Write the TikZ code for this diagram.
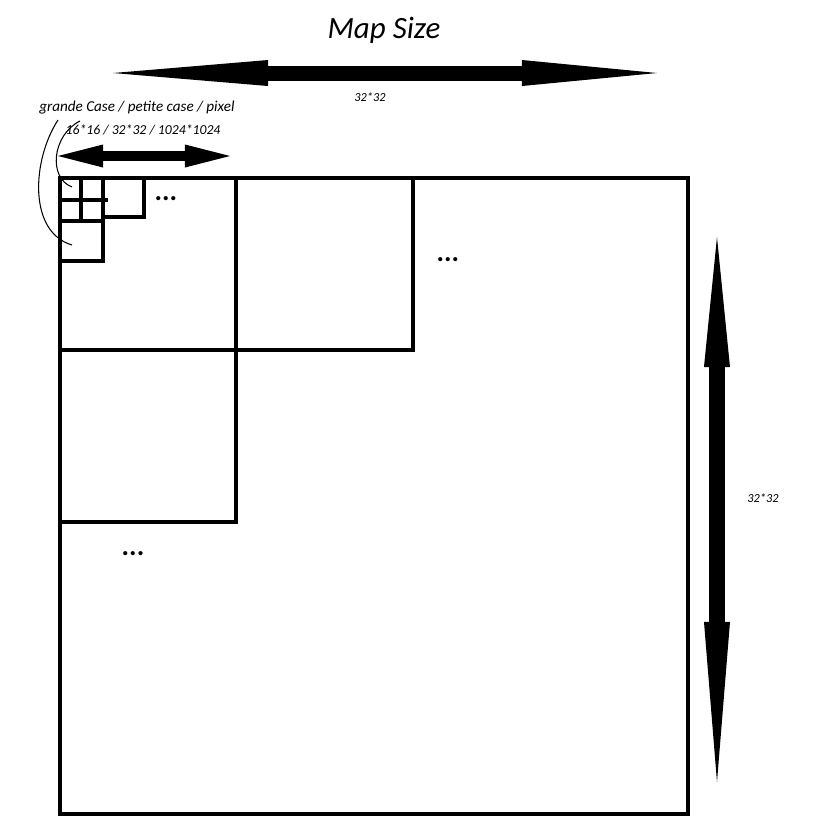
\documentclass[tikz,border=0pt]{standalone}
\usepackage{fontspec}
\setmainfont{Carlito}
\usetikzlibrary{arrows.meta}
\tikzset{
  box/.style={line width=0.45mm},
  dimarrow/.style 2 args={line width=1.5mm, {Triangle[length=#1,width=2.6mm,line width=0pt]}-{Triangle[length=#2,width=2.6mm,line width=0pt]}},
  smallarrow/.style={line width=1mm, {Triangle[length=4.5mm,width=2.3mm,line width=0pt]}-{Triangle[length=4.5mm,width=2.3mm,line width=0pt]}},
  pointer/.style={line width=0.3pt},
  tinylabel/.style={font=\fontsize{3.9}{4.5}\selectfont\itshape, inner sep=0pt},
  dots/.style={font=\fontsize{8}{9}\selectfont\bfseries, inner sep=0pt, anchor=base}
}
\begin{document}
\begin{tikzpicture}[x=0.01cm, y=-0.01cm]
        \useasboundingbox (0,0) rectangle (817,832);

        \node[font=\fontsize{8.8}{10}\selectfont\itshape] (title) at (384,30) {Map Size};

        % Map size arrows
        \coordinate (mapL) at (113,73);
        \coordinate (mapR) at (657,73);
        \draw[dimarrow={15.5mm}{13.5mm}] (mapL) -- (mapR);
        \node[tinylabel, font=\fontsize{3.5}{4}\selectfont\itshape] (wlabel) at (370,97) {32*32};

        \coordinate (mapT) at (717,237);
        \coordinate (mapB) at (717,782);
        \draw[dimarrow={13mm}{16mm}] (mapT) -- (mapB);
        \node[tinylabel, font=\fontsize{3.5}{4}\selectfont\itshape] (hlabel) at (763,498) {32*32};

        % Grande case arrow
        \coordinate (caseL) at (58,156);
        \coordinate (caseR) at (230,156);
        \draw[smallarrow] (caseL) -- (caseR);
        \node[tinylabel, font=\fontsize{4.3}{5}\selectfont\itshape] (names) at (137,108) {grande Case / petite case / pixel};
        \node[tinylabel] (sizes) at (143,130) {16*16 / 32*32 / 1024*1024};

        % Whole map
        \draw[box] (60,178) rectangle (688,814);

        % Grande cases
        \draw[box] (60,178) rectangle (236,350);
        \draw[box] (236,178) rectangle (413,350);
        \draw[box] (60,350) rectangle (236,522);

        % Petite cases and pixels
        \draw[box] (60,178) rectangle (103,221);
        \draw[box] (81,178) -- (81,221);
        \draw[box] (60,200) -- (108,200);
        \draw[box] (103,178) rectangle (144,217);
        \draw[box] (60,221) rectangle (103,261);

        \node[dots] (dotsA) at (166,200) {...};
        \node[dots] (dotsB) at (448,261) {...};
        \node[dots] (dotsC) at (133,555) {...};

        % Hand drawn pointers
        \draw[pointer] (58,120) .. controls (32,160) and (28,232) .. (72,245);
        \draw[pointer] (80,121) .. controls (52,135) and (48,178) .. (72,187);

\end{tikzpicture}
\end{document}
